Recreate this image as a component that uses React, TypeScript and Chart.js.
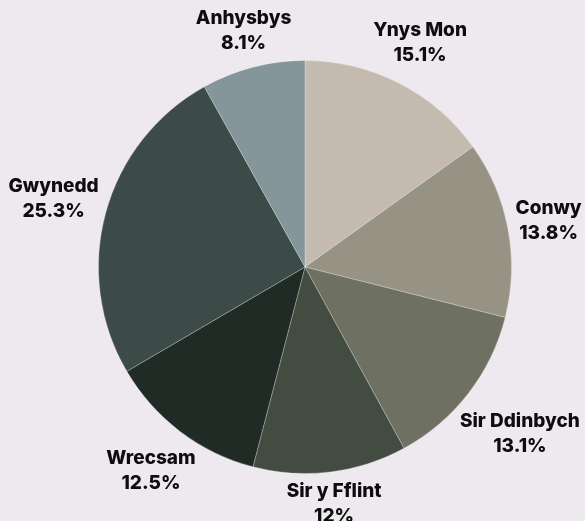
import React, { useEffect, useRef } from "react";
import { Chart, registerables } from "chart.js";

Chart.register(...registerables);

const categories = ["Ynys Mon", "Conwy", "Sir Ddinbych", "Sir y Fflint", "Wrecsam", "Gwynedd", "Anhysbys"];
const shares = [15.1, 13.8, 13.1, 12, 12.5, 25.3, 8.1];
const percentLabels = ["15.1%", "13.8%", "13.1%", "12%", "12.5%", "25.3%", "8.1%"];
const sliceColors = ["#C4BAB0", "#979384", "#6E7062", "#434C40", "#1F2B24", "#3C4B47", "#85969B"];

const BG = "#EEE9EE";
const FONT = "800 19px Inter";
const LINE_H = 25;
const GAP = 5;

const outsideLabels = {
  id: "outsideLabels",
  afterDatasetsDraw(chart: any) {
    const ctx = chart.ctx;
    const meta = chart.getDatasetMeta(0);
    ctx.save();
    ctx.font = FONT;
    ctx.fillStyle = "#0D0D0D";
    ctx.textAlign = "center";
    ctx.textBaseline = "middle";
    meta.data.forEach((arc: any, i: number) => {
      const p = arc.getProps(["x", "y", "startAngle", "endAngle", "outerRadius"], true);
      const mid = (p.startAngle + p.endAngle) / 2;
      const vx = Math.cos(mid);
      const vy = Math.sin(mid);
      const lines = [categories[i], percentLabels[i]];
      const w = Math.max(...lines.map((l) => ctx.measureText(l).width));
      const a = w / 2;
      const b = 21;
      const d = p.outerRadius + GAP + a * Math.abs(vx) + b * Math.abs(vy);
      const cx = p.x + vx * d;
      const cy = p.y + vy * d;
      ctx.fillText(lines[0], cx, cy - LINE_H / 2);
      ctx.fillText(lines[1], cx, cy + LINE_H / 2);
    });
    ctx.restore();
  },
};

export default function App() {
  const ref = useRef<HTMLCanvasElement | null>(null);
  useEffect(() => {
    if (!ref.current) return;
    const chart = new Chart(ref.current, {
      type: "pie",
      data: {
        labels: categories,
        datasets: [
          {
            data: shares,
            backgroundColor: sliceColors,
            borderColor: "rgba(255,255,255,0.25)",
            borderWidth: 1,
          },
        ],
      },
      options: {
        animation: false,
        responsive: false,
        layout: { padding: { left: 98, right: 73, top: 60, bottom: 47 } },
        plugins: { legend: { display: false }, tooltip: { enabled: false } },
      },
      plugins: [outsideLabels],
    });
    return () => chart.destroy();
  }, []);
  return (
    <div style={{ position: "fixed", left: 0, top: 0, width: 585, height: 521, background: BG }}>
      <canvas ref={ref} width={585} height={521} style={{ display: "block" }} />
    </div>
  );
}
